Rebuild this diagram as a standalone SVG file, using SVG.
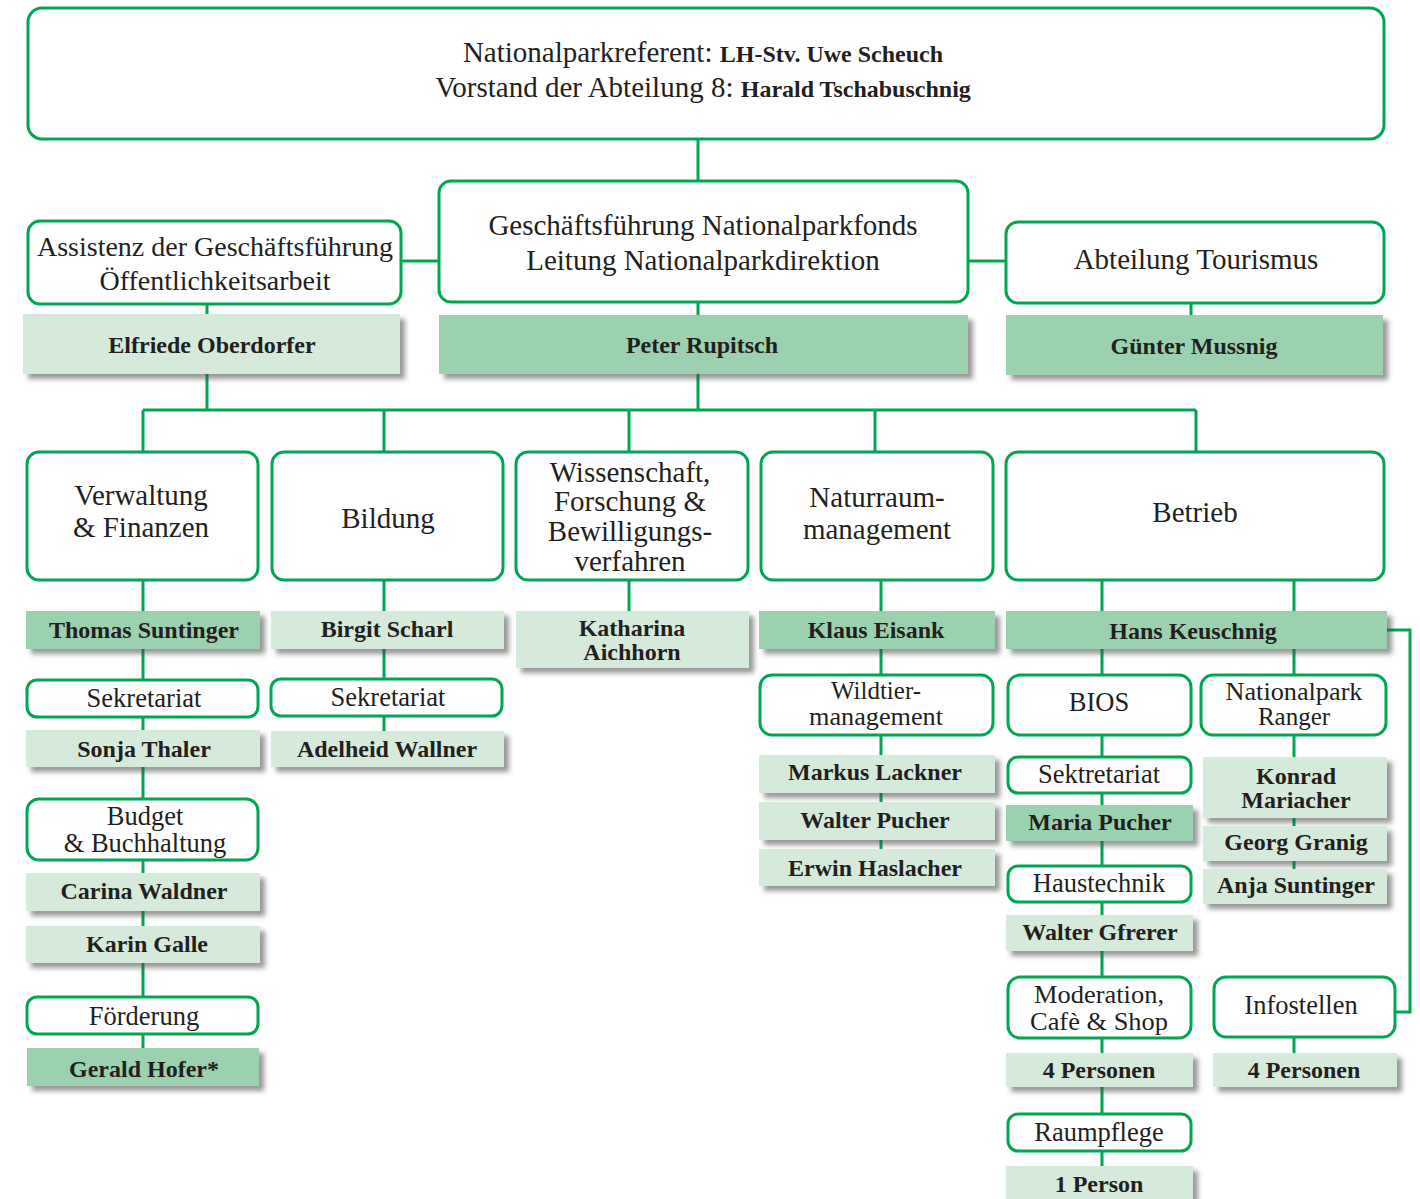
<svg xmlns="http://www.w3.org/2000/svg" width="1420" height="1199" viewBox="0 0 1420 1199">
<defs>
<filter id="sh" x="-5%" y="-20%" width="115%" height="160%">
<feDropShadow dx="5" dy="5" stdDeviation="2.5" flood-color="#444" flood-opacity="0.55"/>
</filter>
<style>
.box{fill:#fff;stroke:#00a651;stroke-width:3}
.n1{fill:#d5eadb;filter:url(#sh)}
.n2{fill:#9bd1ae;filter:url(#sh)}
.c{stroke:#00a651;stroke-width:3;fill:none}
text{font-family:"Liberation Serif","Times New Roman",serif;fill:#231f20;text-anchor:middle}
.h{font-size:29px}
.m{font-size:26.5px}
.s{font-size:25px}
.t{font-size:29px}
.b{font-size:24px;font-weight:bold}
.bb{font-size:24px;font-weight:bold}
</style>
</defs>
<rect width="1420" height="1199" fill="#fff"/>
<g id="connectors">
<path class="c" d="M698 139V181M401 261H439M968 261H1006M207 304V314M207 374V410M698 302V315M698 374V410M1191 303V315"/>
<path class="c" d="M143 410H1196M143 410V452M384 410V452M629 410V452M875 410V452M1196 410V452"/>
<path class="c" d="M143 580V1048M384 580V731M629 580V611M881 580V849M1102 580V1166M1294 580V869"/>
<path class="c" d="M1387 630H1410V1012H1395M1294 1037V1053"/>
</g>
<g id="top"><rect class="box" x="28" y="8" width="1356" height="131" rx="14"/>
<text x="703" y="62"><tspan class="t">Nationalparkreferent: </tspan><tspan class="b">LH-Stv. Uwe Scheuch</tspan></text>
<text x="703" y="97"><tspan class="t">Vorstand der Abteilung 8: </tspan><tspan class="b">Harald Tschabuschnig</tspan></text></g>
<g id="gf"><rect class="box" x="439" y="181" width="529" height="121" rx="12"/>
<text class="h" x="703" y="235">Geschäftsführung Nationalparkfonds</text>
<text class="h" x="703" y="270">Leitung Nationalparkdirektion</text></g>
<g id="assistenz"><rect class="box" x="28" y="221" width="373" height="83" rx="12"/>
<text x="215" y="256" style="font-size:28px">Assistenz der Geschäftsführung</text>
<text x="215" y="290" style="font-size:28px">Öffentlichkeitsarbeit</text></g>
<g id="tourismus"><rect class="box" x="1006" y="222" width="378" height="81" rx="12"/>
<text class="h" x="1196" y="269">Abteilung Tourismus</text></g>
<g id="oberdorfer"><rect class="n1" x="23" y="314" width="377" height="60"/><text class="bb" x="212" y="353">Elfriede Oberdorfer</text></g>
<g id="rupitsch"><rect class="n2" x="439" y="315" width="529" height="59"/><text class="bb" x="702" y="353">Peter Rupitsch</text></g>
<g id="mussnig"><rect class="n2" x="1006" y="315" width="377" height="60"/><text class="bb" x="1194" y="354">Günter Mussnig</text></g>

<g id="verwaltung"><rect class="box" x="27" y="452" width="231" height="128" rx="12"/>
<text class="h" x="141" y="505">Verwaltung</text><text class="h" x="141" y="537">&amp; Finanzen</text></g>
<g id="bildung"><rect class="box" x="272" y="452" width="231" height="128" rx="12"/>
<text class="h" x="388" y="528">Bildung</text></g>
<g id="wissenschaft"><rect class="box" x="516" y="452" width="232" height="128" rx="12"/>
<text class="h" x="630" y="482">Wissenschaft,</text><text class="h" x="630" y="511">Forschung &amp;</text><text class="h" x="630" y="541">Bewilligungs-</text><text class="h" x="630" y="571">verfahren</text></g>
<g id="naturraum"><rect class="box" x="761" y="452" width="232" height="128" rx="12"/>
<text class="h" x="877" y="507">Naturraum-</text><text class="h" x="877" y="539">management</text></g>
<g id="betrieb"><rect class="box" x="1006" y="452" width="378" height="128" rx="12"/>
<text class="h" x="1195" y="522">Betrieb</text></g>

<g id="suntinger"><rect class="n2" x="26" y="611" width="234" height="38"/><text class="bb" x="144" y="638">Thomas Suntinger</text></g>
<g id="scharl"><rect class="n1" x="271" y="611" width="233" height="38"/><text class="bb" x="387" y="637">Birgit Scharl</text></g>
<g id="aichhorn"><rect class="n1" x="516" y="611" width="233" height="57"/><text class="bb" x="632" y="636">Katharina</text><text class="bb" x="632" y="660">Aichhorn</text></g>
<g id="eisank"><rect class="n2" x="759" y="611" width="236" height="38"/><text class="bb" x="876" y="638">Klaus Eisank</text></g>
<g id="keuschnig"><rect class="n2" x="1006" y="611" width="381" height="38"/><text class="bb" x="1193" y="639">Hans Keuschnig</text></g>

<g id="sek1"><rect class="box" x="27" y="680" width="231" height="37" rx="10"/><text class="m" x="144" y="707">Sekretariat</text></g>
<g id="thaler"><rect class="n1" x="26" y="730" width="234" height="37"/><text class="bb" x="144" y="757">Sonja Thaler</text></g>
<g id="budget"><rect class="box" x="27" y="799" width="231" height="61" rx="12"/><text class="m" x="145" y="825">Budget</text><text class="m" x="145" y="852">&amp; Buchhaltung</text></g>
<g id="waldner"><rect class="n1" x="26" y="873" width="234" height="38"/><text class="bb" x="144" y="899">Carina Waldner</text></g>
<g id="galle"><rect class="n1" x="26" y="926" width="234" height="37"/><text class="bb" x="147" y="952">Karin Galle</text></g>
<g id="foerderung"><rect class="box" x="27" y="997" width="231" height="37" rx="10"/><text class="m" x="144" y="1025">Förderung</text></g>
<g id="hofer"><rect class="n2" x="27" y="1048" width="232" height="38"/><text class="bb" x="144" y="1077">Gerald Hofer*</text></g>

<g id="sek2"><rect class="box" x="271" y="679" width="231" height="37" rx="10"/><text class="m" x="388" y="706">Sekretariat</text></g>
<g id="wallner"><rect class="n1" x="271" y="731" width="233" height="36"/><text class="bb" x="387" y="757">Adelheid Wallner</text></g>

<g id="wildtier"><rect class="box" x="760" y="675" width="233" height="60" rx="12"/><text class="s" x="876" y="699">Wildtier-</text><text class="s" x="876" y="725" textLength="134" lengthAdjust="spacingAndGlyphs">management</text></g>
<g id="lackner"><rect class="n1" x="759" y="755" width="236" height="38"/><text class="bb" x="875" y="780">Markus Lackner</text></g>
<g id="pucherw"><rect class="n1" x="759" y="802" width="236" height="38"/><text class="bb" x="875" y="828">Walter Pucher</text></g>
<g id="haslacher"><rect class="n1" x="759" y="849" width="236" height="37"/><text class="bb" x="875" y="876">Erwin Haslacher</text></g>

<g id="bios"><rect class="box" x="1008" y="675" width="183" height="60" rx="12"/><text class="m" x="1099" y="711">BIOS</text></g>
<g id="sek3"><rect class="box" x="1008" y="757" width="183" height="36" rx="10"/><text class="m" x="1099" y="783">Sektretariat</text></g>
<g id="pucherm"><rect class="n2" x="1006" y="805" width="187" height="36"/><text class="bb" x="1100" y="830">Maria Pucher</text></g>
<g id="haustechnik"><rect class="box" x="1008" y="866" width="183" height="36" rx="10"/><text class="m" x="1099" y="892">Haustechnik</text></g>
<g id="gfrerer"><rect class="n1" x="1006" y="915" width="187" height="36"/><text class="bb" x="1100" y="940">Walter Gfrerer</text></g>
<g id="moderation"><rect class="box" x="1008" y="977" width="183" height="61" rx="12"/><text class="s" x="1099" y="1003" textLength="130" lengthAdjust="spacingAndGlyphs">Moderation,</text><text class="s" x="1099" y="1030" textLength="138" lengthAdjust="spacingAndGlyphs">Cafè &amp; Shop</text></g>
<g id="pers1"><rect class="n1" x="1006" y="1053" width="187" height="34"/><text class="bb" x="1099" y="1078">4 Personen</text></g>
<g id="raumpflege"><rect class="box" x="1008" y="1114" width="183" height="37" rx="10"/><text class="m" x="1099" y="1141">Raumpflege</text></g>
<g id="pers2"><rect class="n1" x="1006" y="1166" width="187" height="40"/><text class="bb" x="1099" y="1192">1 Person</text></g>

<g id="ranger"><rect class="box" x="1201" y="675" width="185" height="60" rx="12"/><text class="s" x="1294" y="700" textLength="137" lengthAdjust="spacingAndGlyphs">Nationalpark</text><text class="s" x="1294" y="725">Ranger</text></g>
<g id="mariacher"><rect class="n1" x="1203" y="757" width="184" height="61"/><text class="bb" x="1296" y="784">Konrad</text><text class="bb" x="1296" y="808">Mariacher</text></g>
<g id="granig"><rect class="n1" x="1203" y="826" width="184" height="35"/><text class="bb" x="1296" y="850">Georg Granig</text></g>
<g id="anja"><rect class="n1" x="1203" y="869" width="184" height="35"/><text class="bb" x="1296" y="893">Anja Suntinger</text></g>

<g id="infostellen"><rect class="box" x="1214" y="977" width="181" height="60" rx="12"/><text class="m" x="1301" y="1014">Infostellen</text></g>
<g id="pers3"><rect class="n1" x="1213" y="1053" width="184" height="34"/><text class="bb" x="1304" y="1078">4 Personen</text></g>
</svg>
